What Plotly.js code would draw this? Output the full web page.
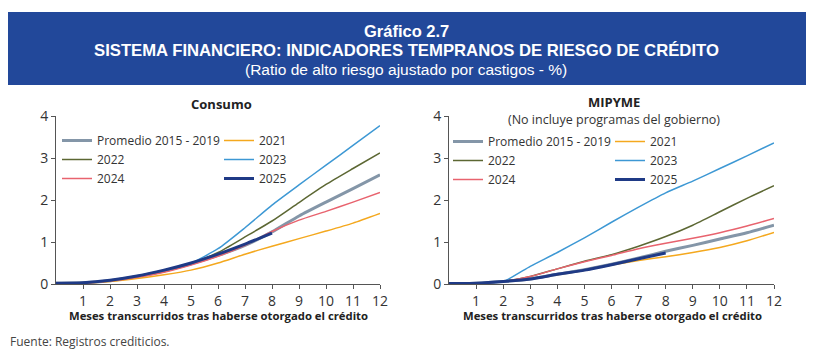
<!DOCTYPE html>
<html>
<head>
<meta charset="utf-8">
<script src="https://cdn.plot.ly/plotly-3.0.1.min.js"></script>
<style>html,body{margin:0;padding:0;background:#fff;}#chart{width:815px;height:355px;}</style>
</head>
<body>
<div id="chart"></div>
<script>
// ---- data ----
const months = [0,1,2,3,4,5,6,7,8,9,10,11,12];
const seriesNames = ["Promedio 2015 - 2019","2021","2022","2023","2024","2025"];

// Consumo
const consProm = [0.02,0.03,0.08,0.18,0.31,0.48,0.68,0.92,1.24,1.62,1.95,2.27,2.60];
const cons2021 = [0.01,0.02,0.06,0.13,0.22,0.33,0.50,0.71,0.90,1.08,1.26,1.45,1.68];
const cons2022 = [0.02,0.03,0.08,0.18,0.31,0.49,0.75,1.12,1.50,1.94,2.37,2.75,3.12];
const cons2023 = [0.02,0.03,0.08,0.18,0.31,0.50,0.84,1.34,1.88,2.36,2.83,3.30,3.77];
const cons2024 = [0.01,0.02,0.07,0.16,0.28,0.45,0.66,0.92,1.25,1.52,1.73,1.95,2.18];
const cons2025 = [0.02,0.03,0.09,0.19,0.33,0.50,0.71,0.95,1.21];

// MIPYME
const mipProm = [0.01,0.02,0.06,0.12,0.23,0.34,0.47,0.62,0.78,0.92,1.07,1.22,1.40];
const mip2021 = [0.01,0.02,0.06,0.12,0.22,0.33,0.45,0.56,0.65,0.75,0.87,1.03,1.23];
const mip2022 = [0.01,0.02,0.06,0.18,0.36,0.54,0.70,0.90,1.13,1.40,1.72,2.04,2.34];
const mip2023 = [0.01,0.02,0.06,0.42,0.75,1.10,1.47,1.83,2.17,2.45,2.75,3.05,3.36];
const mip2024 = [0.01,0.02,0.06,0.18,0.36,0.53,0.68,0.84,0.97,1.09,1.22,1.38,1.56];
const mip2025 = [0.01,0.02,0.06,0.12,0.23,0.33,0.46,0.60,0.74];

const yTicks = [0,1,2,3,4];
const xTicks = [1,2,3,4,5,6,7,8,9,10,11,12];

// ---- styles ----
const colors = ["#8496a8","#f4a81e","#5c6733","#3d98d4","#e8636e","#1f3a86"];
const widths = [3,1.5,1.5,1.5,1.5,3];
const FONT = "Open Sans, Noto Sans, sans-serif";

function mk(ys, i, xa, ya, leg) {
  return {
    x: months.slice(0, ys.length), y: ys, type: "scatter", mode: "lines",
    name: seriesNames[i], xaxis: xa, yaxis: ya, legend: leg,
    line: {color: colors[i], width: widths[i], shape: "spline", smoothing: 0.6},
    hoverinfo: "skip"
  };
}
const consSets = [consProm, cons2021, cons2022, cons2023, cons2024, cons2025];
const mipSets = [mipProm, mip2021, mip2022, mip2023, mip2024, mip2025];
const traces = [];
// even index -> first legend column, odd index -> second column
consSets.forEach((s, i) => traces.push(mk(s, i, "x", "y", i % 2 === 0 ? "legend" : "legend2")));
mipSets.forEach((s, i) => traces.push(mk(s, i, "x2", "y2", i % 2 === 0 ? "legend3" : "legend4")));

const W = 815, H = 355;
const px = v => v / W, py = v => (H - v) / H;

function xaxis(d0, d1, anchor) {
  return {
    domain: [px(d0), px(d1)], range: [0, 12], anchor: anchor,
    tickvals: xTicks, ticktext: xTicks.map(String),
    showgrid: false, zeroline: false, showline: true, linecolor: "#555", linewidth: 1,
    ticks: "outside", ticklen: 4, tickcolor: "#555",
    tickfont: {family: FONT, size: 14, color: "#333"}, fixedrange: true
  };
}
function yaxis(anchor) {
  return {
    domain: [py(284), py(116)], range: [0, 4], anchor: anchor,
    tickvals: yTicks, ticktext: yTicks.map(String),
    showgrid: false, zeroline: false, showline: true, linecolor: "#555", linewidth: 1,
    ticks: "outside", ticklen: 4, tickcolor: "#555",
    tickfont: {family: FONT, size: 14, color: "#333"}, fixedrange: true
  };
}
function legend(x, ytop) {
  return {
    x: px(x), y: py(ytop), xanchor: "left", yanchor: "top",
    orientation: "v", bgcolor: "rgba(0,0,0,0)", borderwidth: 0,
    font: {family: FONT, size: 12, color: "#333"}, itemwidth: 30, tracegroupgap: 0
  };
}

const headFont = "Liberation Sans Narrow, Arial Narrow, sans-serif";
function ann(text, x, y, size, color, family, extra) {
  return Object.assign({text: text, x: px(x), y: py(y), xref: "paper", yref: "paper",
    xanchor: "center", yanchor: "middle", showarrow: false,
    font: {family: family, size: size, color: color}}, extra || {});
}
const xTitle = "<b>Meses transcurridos tras haberse otorgado el crédito</b>";
const layout = {
  width: W, height: H, margin: {l: 0, r: 0, t: 0, b: 0},
  paper_bgcolor: "#fff", plot_bgcolor: "rgba(0,0,0,0)", showlegend: true,
  xaxis: xaxis(56, 380, "y"), yaxis: yaxis("x"),
  xaxis2: xaxis(449, 774, "y2"), yaxis2: yaxis("x2"),
  legend: legend(57, 126), legend2: legend(219, 126),
  legend3: legend(448, 127), legend4: legend(610, 127),
  shapes: [{type: "rect", xref: "paper", yref: "paper", x0: px(8), x1: px(806), y0: py(85), y1: py(12),
            fillcolor: "#22489a", line: {width: 0}, layer: "below"}],
  annotations: [
    ann("<b>Gráfico 2.7</b>", 406, 31, 16.5, "#fff", headFont),
    ann("<b>SISTEMA FINANCIERO: INDICADORES TEMPRANOS DE RIESGO DE CRÉDITO</b>", 406, 50, 16.7, "#fff", headFont),
    ann("(Ratio de alto riesgo ajustado por castigos - %)", 406, 70, 15.5, "#fff", headFont),
    ann("<b>Consumo</b>", 221, 104, 13, "#222", FONT),
    ann("<b>MIPYME</b>", 614, 102, 13, "#222", FONT),
    ann("(No incluye programas del gobierno)", 614, 119, 12.5, "#333", FONT),
    ann(xTitle, 218, 315, 11.3, "#222", FONT),
    ann(xTitle, 612, 315, 11.3, "#222", FONT),
    ann("Fuente: Registros crediticios.", 8, 341, 12, "#444", FONT, {xanchor: "left"})
  ]
};

Plotly.newPlot("chart", traces, layout, {staticPlot: true, displayModeBar: false});
</script>
</body>
</html>
